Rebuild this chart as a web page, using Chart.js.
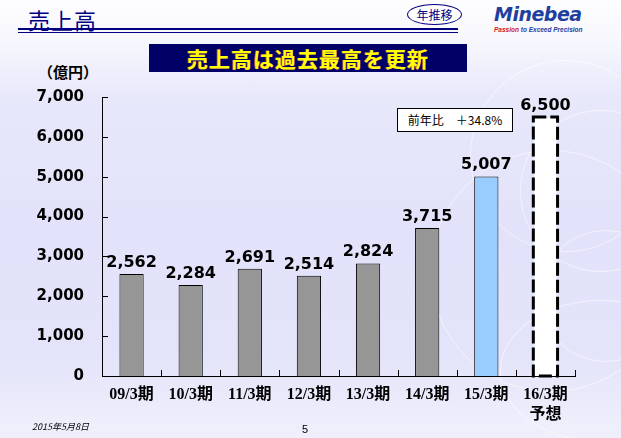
<!DOCTYPE html>
<html lang="ja">
<head>
    <meta charset="UTF-8" />
    <title>売上高</title>
    <style>
        body {
            margin: 0;
            width: 621px;
            height: 438px;
            overflow: hidden;
            font-family: "Noto Sans CJK JP", sans-serif;
        }
        .slide {
            position: relative;
            width: 621px;
            height: 438px;
            background: linear-gradient(to bottom, #fefeff 0%, #f6f6fd 10%, #e8e8fb 22%, #e2e2fa 50%, #e3e3fa 80%, #f0f0fc 100%);
            overflow: hidden;
        }
        .ring {
            position: absolute;
            border: 1.5px solid rgba(255, 255, 255, 0.55);
            border-radius: 50%;
        }
        .title {
            position: absolute;
            left: 28px;
            top: 3px;
            font-size: 22px;
            color: #000080;
            letter-spacing: 1px;
        }
        .rule1 { position: absolute; left: 18px; top: 28px; width: 440px; height: 2px; background: #000080; }
        .rule2 { position: absolute; left: 18px; top: 32px; width: 440px; height: 1px; background: #000080; }
        .oval {
            position: absolute;
            left: 407px;
            top: 4px;
            width: 53px;
            height: 19px;
            border: 1px solid #000080;
            border-radius: 50%;
            font-size: 12px;
            line-height: 19px;
            text-align: center;
            color: #000080;
            background: #fff;
        }
        .logo {
            position: absolute;
            left: 494px;
            top: 3px;
            font-family: "DejaVu Sans", sans-serif;
            font-weight: bold;
            font-style: italic;
            font-size: 19px;
            color: #1f3f9f;
            letter-spacing: -0.5px;
        }
        .tagline {
            position: absolute;
            left: 494px;
            top: 26px;
            font-family: "Liberation Sans", sans-serif;
            font-style: italic;
            font-weight: bold;
            font-size: 6.5px;
            color: #1f3f9f;
        }
        .tagline span { color: #d02020; }
        .banner {
            position: absolute;
            left: 149px;
            top: 44px;
            width: 318px;
            height: 28px;
            background: #000066;
            color: #ffff00;
            font-weight: bold;
            font-size: 21px;
            line-height: 28px;
            text-align: center;
            letter-spacing: 1px;
            text-shadow: -1px 0 0 #c0306a;
        }
        .unit {
            position: absolute;
            left: 38px;
            top: 61px;
            font-weight: bold;
            font-size: 15px;
            color: #000;
        }
        .note {
            position: absolute;
            left: 397px;
            top: 108px;
            width: 114px;
            height: 22px;
            border: 1px solid #000;
            background: #fff;
            font-size: 12px;
            line-height: 22px;
            text-align: center;
            color: #000;
        }
        .date {
            position: absolute;
            left: 32px;
            top: 420px;
            font-size: 9px;
            font-style: italic;
            color: #000;
        }
        .page {
            position: absolute;
            left: 302px;
            top: 423px;
            font-family: "Liberation Sans", sans-serif;
            font-size: 11px;
            color: #000;
        }
        canvas {
            position: absolute;
            left: 0;
            top: 0;
        }
    </style>
</head>
<body>
    <div class="slide">
        <div class="ring" style="left:470px; top:60px; width:190px; height:190px;"></div>
        <div class="ring" style="left:520px; top:110px; width:160px; height:160px;"></div>
        <div class="ring" style="left:430px; top:150px; width:240px; height:240px;"></div>
        <div class="ring" style="left:540px; top:230px; width:130px; height:130px;"></div>
        <div class="ring" style="left:500px; top:300px; width:200px; height:140px;"></div>

        <div class="title">売上高</div>
        <div class="rule1"></div>
        <div class="rule2"></div>
        <div class="oval">年推移</div>
        <div class="logo">Minebea</div>
        <div class="tagline"><span>Passion</span> to Exceed Precision</div>
        <div class="banner">売上高は過去最高を更新</div>
        <div class="unit">（億円）</div>

        <canvas id="chart-1" width="621" height="438"></canvas>

        <div class="note">前年比　＋34.8%</div>
        <div class="date">2015年5月8日</div>
        <div class="page">5</div>
    </div>

    <script src="https://cdn.jsdelivr.net/npm/chart.js"></script>

    <script>
        // data
        const periods = ["09/3期", "10/3期", "11/3期", "12/3期", "13/3期", "14/3期", "15/3期", ["16/3期", "予想"]];
        const sales = [2562, 2284, 2691, 2514, 2824, 3715, 5007, 6500];
        const yTicks = [0, 1000, 2000, 3000, 4000, 5000, 6000, 7000];

        const barColors = ["#969696", "#969696", "#969696", "#969696", "#969696", "#969696", "#99ccff", "#ffffff"];
        const edgeColors = ["#000", "#000", "#000", "#000", "#000", "#000", "#000", "rgba(0,0,0,0)"];
        const forecastIndex = 7;

        // inward tick marks on both axes
        const innerTicks = {
            id: "innerTicks",
            afterDraw(chart) {
                const { ctx, chartArea, scales } = chart;
                ctx.save();
                ctx.strokeStyle = "#000";
                ctx.lineWidth = 1;
                ctx.beginPath();
                yTicks.forEach(v => {
                    const y = Math.round(scales.y.getPixelForValue(v)) + 0.5;
                    ctx.moveTo(chartArea.left, y);
                    ctx.lineTo(chartArea.left + 6, y);
                });
                const n = periods.length;
                for (let i = 0; i <= n; i++) {
                    let x;
                    if (i === 0) x = chartArea.left;
                    else if (i === n) x = chartArea.right;
                    else x = (scales.x.getPixelForValue(i - 1) + scales.x.getPixelForValue(i)) / 2;
                    x = Math.round(x) + 0.5;
                    ctx.moveTo(x, chartArea.bottom);
                    ctx.lineTo(x, chartArea.bottom - 6);
                }
                ctx.stroke();
                ctx.restore();
            }
        };

        // value labels and the dashed forecast bar
        const barExtras = {
            id: "barExtras",
            afterDatasetsDraw(chart) {
                const { ctx } = chart;
                const meta = chart.getDatasetMeta(0);
                ctx.save();
                meta.data.forEach((bar, i) => {
                    if (i === forecastIndex) {
                        const w = bar.width;
                        ctx.setLineDash([13, 4]);
                        ctx.lineWidth = 3;
                        ctx.strokeStyle = "#000";
                        ctx.strokeRect(bar.x - w / 2, bar.y, w, bar.base - bar.y);
                        ctx.setLineDash([]);
                    }
                    ctx.fillStyle = "#000";
                    ctx.font = "bold 16px 'DejaVu Sans'";
                    ctx.textAlign = "center";
                    ctx.textBaseline = "alphabetic";
                    ctx.fillText(sales[i].toLocaleString("en-US"), bar.x, bar.y - 7);
                });
                ctx.restore();
            }
        };

        const ctx = document.getElementById("chart-1").getContext("2d");
        const chart = new Chart(ctx, {
            type: "bar",
            data: {
                labels: periods,
                datasets: [{
                    data: sales,
                    backgroundColor: barColors,
                    borderColor: edgeColors,
                    borderWidth: 1,
                    barPercentage: 0.41,
                    categoryPercentage: 1.0,
                }],
            },
            options: {
                responsive: false,
                animation: false,
                layout: {
                    padding: { top: 97, right: 46, bottom: 0, left: 0 }
                },
                plugins: {
                    legend: { display: false },
                    tooltip: { enabled: false },
                },
                scales: {
                    x: {
                        afterFit(scale) { scale.height = 62; },
                        grid: { display: false, drawTicks: false },
                        border: { display: true, color: "#000", width: 1 },
                        ticks: {
                            color: "#000",
                            padding: 8,
                            font: { family: "'Liberation Serif', 'Noto Sans CJK JP'", size: 16, weight: "bold", lineHeight: 1.3 },
                            maxRotation: 0,
                            autoSkip: false,
                        },
                    },
                    y: {
                        min: 0,
                        max: 7000,
                        afterFit(scale) { scale.width = 102; },
                        afterBuildTicks(scale) { scale.ticks = yTicks.map(v => ({ value: v })); },
                        grid: { display: false, drawTicks: false },
                        border: { display: true, color: "#000", width: 1 },
                        ticks: {
                            color: "#000",
                            padding: 18,
                            font: { family: "'DejaVu Sans'", size: 15, weight: "bold" },
                            callback: v => v.toLocaleString("en-US"),
                        },
                    },
                },
            },
            plugins: [innerTicks, barExtras],
        });
    </script>
</body>
</html>
